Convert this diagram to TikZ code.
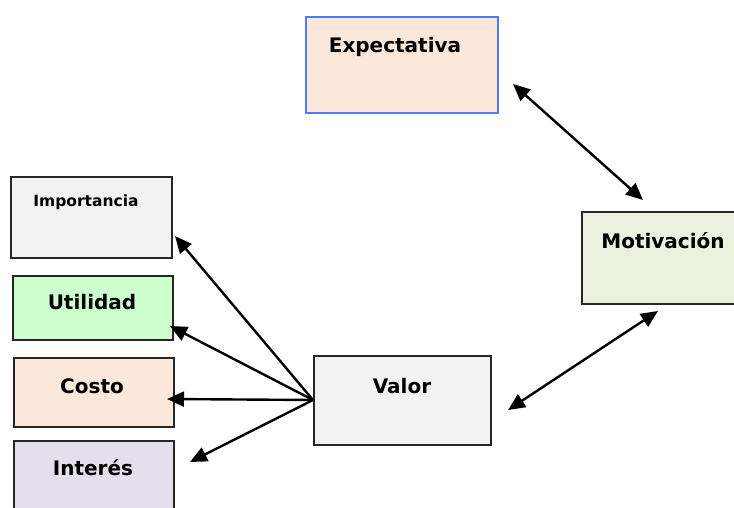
\documentclass[tikz,border=0pt]{standalone}
\usepackage{fontspec}
\setmainfont{DejaVu Sans}
\usetikzlibrary{arrows.meta}
\definecolor{peach}{HTML}{FCE8DA}
\definecolor{lgray}{HTML}{F2F2F2}
\definecolor{lgreen}{HTML}{CCFFCC}
\definecolor{olivel}{HTML}{EBF1DE}
\definecolor{lilac}{HTML}{E4DFEC}
\definecolor{bluebd}{HTML}{4F7BFF}
\tikzset{
  box/.style={draw=black!85, line width=1.6pt, anchor=north west, inner sep=0pt},
  lbl/.style={font=\bfseries\fontsize{20}{22}\selectfont, inner sep=0pt},
  slbl/.style={font=\bfseries\fontsize{15.5}{17}\selectfont, inner sep=0pt},
  arr/.style={line width=2.4pt, -{Triangle[length=17pt,width=15pt]}},
  darr/.style={line width=2.4pt, {Triangle[length=17pt,width=15pt]}-{Triangle[length=17pt,width=15pt]}}
}
\begin{document}
\begin{tikzpicture}[x=1pt,y=-1pt]
\useasboundingbox (0,0) rectangle (734,508);
\node[box, draw=bluebd, fill=peach, minimum width=192pt, minimum height=96pt] (exp) at (305,16) {};
\node[lbl] (texp) at (395,47) {Expectativa};
\node[box, fill=olivel, minimum width=160pt, minimum height=92pt] (mot) at (581,211) {};
\node[lbl] (tmot) at (663,241) {Motivación};
\node[box, fill=lgray, minimum width=177pt, minimum height=89pt] (val) at (313,355) {};
\node[lbl] (tval) at (402,386) {Valor};
\node[box, fill=lgray, minimum width=161pt, minimum height=81pt] (imp) at (10,176) {};
\node[slbl] (timp) at (86,202) {Importancia};
\node[box, fill=lgreen, minimum width=160pt, minimum height=64pt] (uti) at (12,275) {};
\node[lbl] (tuti) at (92,302) {Utilidad};
\node[box, fill=peach, minimum width=160pt, minimum height=69pt] (cos) at (13,357) {};
\node[lbl] (tcos) at (92,386) {Costo};
\node[box, fill=lilac, minimum width=160pt, minimum height=72pt] (int) at (13,440) {};
\node[lbl] (tint) at (93,468) {Interés};
\coordinate (e1) at (513,84);
\coordinate (m1) at (643,200);
\coordinate (m2) at (658,311);
\coordinate (v1) at (508,410);
\coordinate (vs) at (313,400);
\coordinate (i1) at (175,236);
\coordinate (u1) at (170,326);
\coordinate (c1) at (167,399);
\coordinate (n1) at (190,462);
\draw[darr] (e1) -- (m1);
\draw[darr] (m2) -- (v1);
\draw[arr] (vs) -- (i1);
\draw[arr] (vs) -- (u1);
\draw[arr] (vs) -- (c1);
\draw[arr] (vs) -- (n1);
\end{tikzpicture}
\end{document}
